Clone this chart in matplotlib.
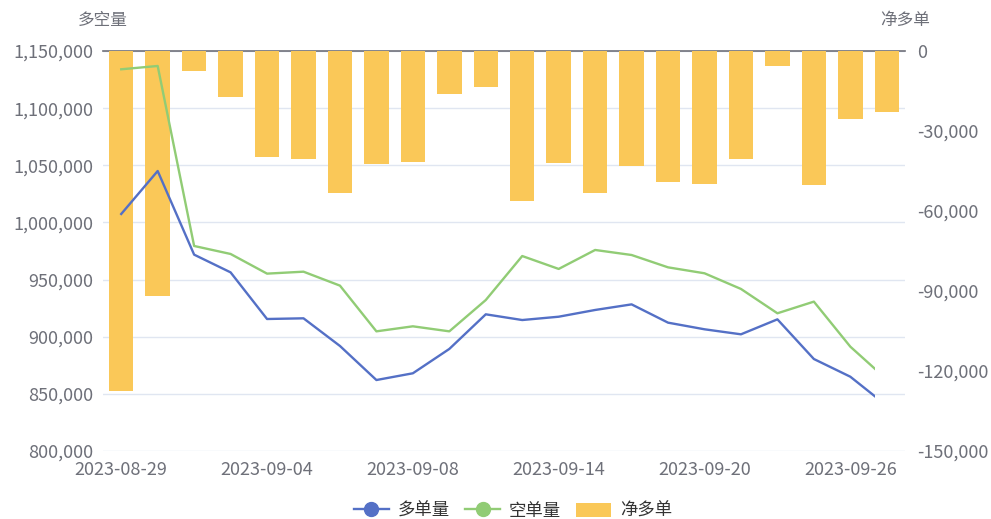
import matplotlib
matplotlib.use("Agg")
import matplotlib.pyplot as plt
import matplotlib.transforms as mtransforms
from matplotlib.patches import Rectangle, Patch
from matplotlib.lines import Line2D
import numpy as np

plt.rcParams['font.family'] = ['Noto Sans CJK SC', 'DejaVu Sans']

dates = ['2023-08-29', '2023-08-30', '2023-08-31', '2023-09-01', '2023-09-04',
         '2023-09-05', '2023-09-06', '2023-09-07', '2023-09-08', '2023-09-11',
         '2023-09-12', '2023-09-13', '2023-09-14', '2023-09-15', '2023-09-18',
         '2023-09-19', '2023-09-20', '2023-09-21', '2023-09-22', '2023-09-25',
         '2023-09-26', '2023-09-27']

long_vol = [1007400, 1045000, 971800, 956300, 915500, 916100, 891900, 862100,
            868000, 889300, 919600, 914600, 917500, 923400, 928300, 912300,
            906500, 902100, 915200, 880500, 865000, 839600]

short_vol = [1134000, 1136900, 979400, 972400, 955200, 956900, 944700, 904700,
             909100, 904700, 932100, 970600, 959300, 975900, 971500, 960700,
             955500, 941800, 920500, 930700, 891300, 862600]

net_long = [-127500, -91800, -7500, -17100, -39600, -40600, -53100, -42400,
            -41500, -16100, -13400, -56100, -41900, -53100, -43300, -49200,
            -49700, -40600, -5700, -50400, -25500, -23000]

left_ticks = [800000, 850000, 900000, 950000, 1000000, 1050000, 1100000, 1150000]
right_ticks = [-150000, -120000, -90000, -60000, -30000, 0]

series_names = ['多单量', '空单量', '净多单']
axis_titles = ['多空量', '净多单']

BLUE = '#5470C6'
GREEN = '#91CC75'
YELLOW = '#FAC858'
LABEL = '#6E7079'
GRID = '#E0E6F1'

W, H = 991, 519
fig = plt.figure(figsize=(W / 100, H / 100), dpi=100)
rect = [103 / W, 1 - 451 / H, 802 / W, 400 / H]

ax = fig.add_axes(rect)
ax_bar = ax.twinx()
ax_line = ax.twinx()

x = np.arange(len(dates))

# Grid / left axis
ax.set_xlim(-0.5, len(dates) - 0.5)
ax.set_ylim(left_ticks[0], left_ticks[-1])
ax.set_yticks(left_ticks)
ax.set_yticklabels([f"{v:,}" for v in left_ticks])
ax.yaxis.tick_left()
ax.grid(axis='y', color=GRID, lw=1)
ax.set_xticks(x[::4])
ax.set_xticklabels([dates[i] for i in x[::4]])
ax.tick_params(axis='y', length=0, pad=7, labelsize=13, labelcolor=LABEL)
ax.tick_params(axis='x', length=0, pad=7, labelsize=13, labelcolor=LABEL)
for s in ax.spines.values():
    s.set_visible(False)

# Bars / right axis
ax_bar.set_ylim(right_ticks[0], right_ticks[-1])
ax_bar.set_yticks(right_ticks)
ax_bar.set_yticklabels([f"{v:,}" for v in right_ticks])
ax_bar.tick_params(axis='y', length=0, pad=9, labelsize=13, labelcolor=LABEL)
for s in ax_bar.spines.values():
    s.set_visible(False)
ax_bar.axhline(0, color=LABEL, lw=1.2, zorder=1, clip_on=False)
ax_bar.bar(x, net_long, width=0.67, color=YELLOW, zorder=2)

# Lines
ax_line.set_ylim(left_ticks[0], left_ticks[-1])
ax_line.yaxis.set_visible(False)
for s in ax_line.spines.values():
    s.set_visible(False)
trans = mtransforms.blended_transform_factory(ax_line.transData, ax_line.transAxes)
clip = Rectangle((-1, -0.2), 21.69, 1.4, transform=trans)
for vals, c in [(long_vol, BLUE), (short_vol, GREEN)]:
    ln, = ax_line.plot(x, vals, color=c, lw=1.7, solid_joinstyle='round')
    ln.set_clip_path(clip)

# Axis titles
fig.text(103 / W, 1 - 20 / H, axis_titles[0], ha='center', va='center',
         fontsize=12, color=LABEL)
fig.text(905 / W, 1 - 20 / H, axis_titles[1], ha='center', va='center',
         fontsize=12, color=LABEL)

# Legend
handles = [Line2D([0], [0], color=BLUE, lw=1.7, marker='o', markersize=10),
           Line2D([0], [0], color=GREEN, lw=1.7, marker='o', markersize=10),
           Patch(facecolor=YELLOW, edgecolor='none')]
fig.legend(handles, series_names, loc='center', bbox_to_anchor=(513 / W, 1 - 511 / H),
           ncol=3, frameon=False, fontsize=12.5, handlelength=2.0,
           handleheight=0.9, handletextpad=0.5, columnspacing=0.9,
           labelcolor='#333333')

fig.savefig('out.png', dpi=100)
